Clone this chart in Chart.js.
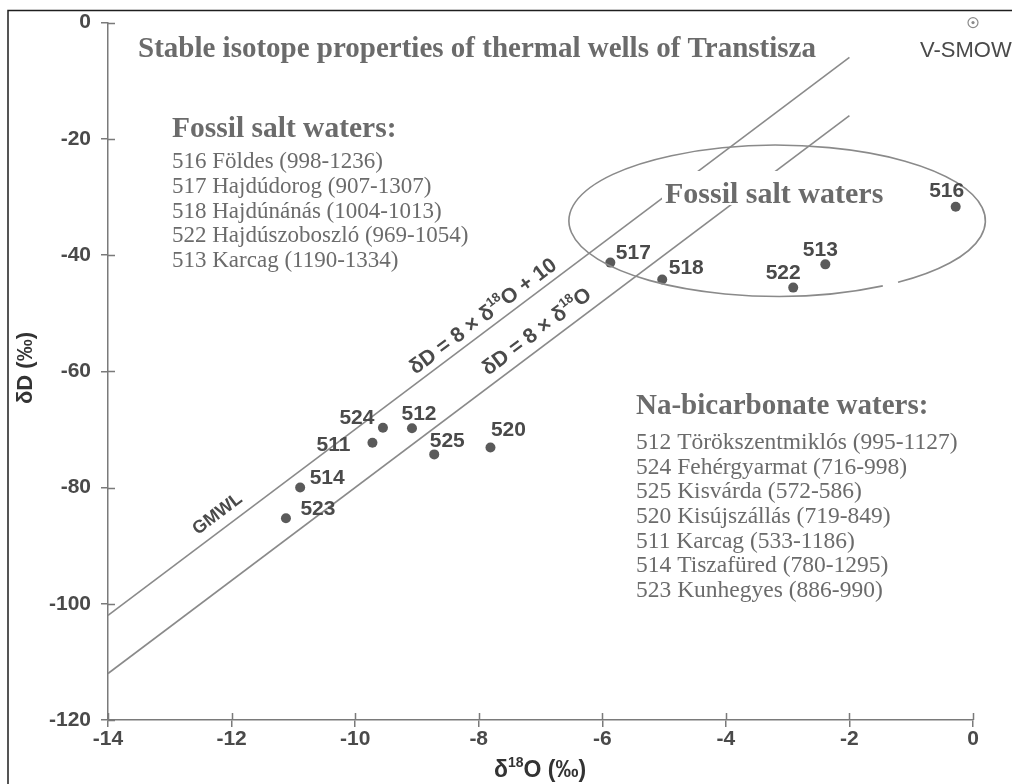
<!DOCTYPE html>
<html>
<head>
<meta charset="utf-8">
<title>Stable isotope properties of thermal wells of Transtisza</title>
<script src="https://cdn.jsdelivr.net/npm/chart.js@4.4.0/dist/chart.umd.min.js"></script>
<style>
  html, body { margin: 0; padding: 0; background: #ffffff; }
  #wrap { position: relative; width: 1012px; height: 784px; }
</style>
</head>
<body>
<div id="wrap"><canvas id="isoChart" width="1012" height="784"></canvas></div>
<script>
// Thermal wells: well number, δ18O (‰) and δD (‰)
const wellLabels = ['516', '513', '522', '518', '517', '524', '512', '511', '525', '520', '514', '523'];
const deltaO18   = [-0.28, -2.39, -2.91, -5.03, -5.87, -9.55, -9.08, -9.72, -8.72, -7.81, -10.89, -11.12];
const deltaD     = [-31.7, -41.6, -45.6, -44.2, -41.3, -69.7, -69.8, -72.3, -74.3, -73.1, -80.0, -85.3];

// Meteoric water lines (end points)
const gmwlO = [-14, -2];
const gmwlD = [-102, -6];   // δD = 8 × δ18O + 10
const mwlO  = [-14, -2];
const mwlD  = [-112, -16];  // δD = 8 × δ18O

// Reference standard
const smowO = [0];
const smowD = [0];

// Axis tick values
const xTickValues = [-14, -12, -10, -8, -6, -4, -2, 0];
const yTickValues = [-120, -100, -80, -60, -40, -20, 0];

// Well lists
const fossilWells = [
  '516 Földes (998-1236)',
  '517 Hajdúdorog (907-1307)',
  '518 Hajdúnánás (1004-1013)',
  '522 Hajdúszoboszló (969-1054)',
  '513 Karcag (1190-1334)'
];
const bicarbWells = [
  '512 Törökszentmiklós (995-1127)',
  '524 Fehérgyarmat (716-998)',
  '525 Kisvárda (572-586)',
  '520 Kisújszállás (719-849)',
  '511 Karcag (533-1186)',
  '514 Tiszafüred (780-1295)',
  '523 Kunhegyes (886-990)'
];

// ---- styling / placement ----
const SANS  = '"Liberation Sans", Arial, sans-serif';
const SERIF = '"Liberation Serif", "Times New Roman", serif';
const INK = '#4a4a4a';
const SERIF_INK = '#6b6b6b';
const LINE_INK = '#8a8a8a';

// label offsets (px) from each well marker to its number
const labelOffsets = [[-9, -16], [-5, -14], [-10, -14], [24, -11], [23, -9], [-26, -9],
                      [7, -14], [-39, 2], [13, -13], [18, -17], [27, -9], [32, -9]];

// outline of the fossil salt water group, in data units
const fossilGroup = { cx: -3.17, cy: -34.1, rx: 3.37, ry: 13.0, gapFrom: 54.5, gapTo: 59.5 };

function drawRich(ctx, parts, x, y, size, weight, family, align) {
  const main = `${weight} ${size}px ${family}`;
  const sup = `${weight} ${Math.round(size * 0.6)}px ${family}`;
  let w = 0;
  parts.forEach(p => { ctx.font = p.sup ? sup : main; w += ctx.measureText(p.t).width; });
  let cx = align === 'center' ? x - w / 2 : x;
  ctx.textAlign = 'left';
  ctx.textBaseline = 'middle';
  parts.forEach(p => {
    ctx.font = p.sup ? sup : main;
    ctx.fillText(p.t, cx, p.sup ? y - size * 0.33 : y);
    cx += ctx.measureText(p.t).width;
  });
}

function lineLabel(chart, lineO, lineD, atO, offset, parts, size) {
  const { ctx, scales: { x, y } } = chart;
  const x0 = x.getPixelForValue(lineO[0]), y0 = y.getPixelForValue(lineD[0]);
  const x1 = x.getPixelForValue(lineO[1]), y1 = y.getPixelForValue(lineD[1]);
  const ang = Math.atan2(y1 - y0, x1 - x0);
  const dAt = lineD[0] + (atO - lineO[0]) * (lineD[1] - lineD[0]) / (lineO[1] - lineO[0]);
  ctx.save();
  ctx.translate(x.getPixelForValue(atO), y.getPixelForValue(dAt));
  ctx.rotate(ang);
  ctx.fillStyle = INK;
  drawRich(ctx, parts, 0, -offset, size, 'bold', SANS, 'center');
  ctx.restore();
}

const decor = {
  id: 'decor',
  afterDatasetsDraw(chart) {
    const { ctx, scales: { x, y } } = chart;
    ctx.save();

    // fossil salt water group outline
    const cx = x.getPixelForValue(fossilGroup.cx), cy = y.getPixelForValue(fossilGroup.cy);
    const rx = Math.abs(x.getPixelForValue(fossilGroup.cx + fossilGroup.rx) - cx);
    const ry = Math.abs(y.getPixelForValue(fossilGroup.cy + fossilGroup.ry) - cy);
    ctx.beginPath();
    ctx.ellipse(cx, cy, rx, ry, 0, fossilGroup.gapTo * Math.PI / 180, (fossilGroup.gapFrom + 360) * Math.PI / 180);
    ctx.strokeStyle = LINE_INK;
    ctx.lineWidth = 1.6;
    ctx.stroke();

    // group caption on a white patch
    ctx.fillStyle = '#ffffff';
    ctx.fillRect(662, 171, 228, 34);
    ctx.fillStyle = SERIF_INK;
    ctx.font = `bold 30px ${SERIF}`;
    ctx.textAlign = 'left';
    ctx.textBaseline = 'middle';
    ctx.fillText('Fossil salt waters', 665, 195);

    // well numbers
    const meta = chart.getDatasetMeta(2);
    ctx.fillStyle = INK;
    ctx.font = `bold 21px ${SANS}`;
    ctx.textAlign = 'center';
    ctx.textBaseline = 'middle';
    meta.data.forEach((pt, i) => {
      ctx.fillText(wellLabels[i], pt.x + labelOffsets[i][0], pt.y + labelOffsets[i][1]);
    });

    // line captions
    lineLabel(chart, gmwlO, gmwlD, -12.08, 15, [{ t: 'GMWL' }], 18);
    lineLabel(chart, gmwlO, gmwlD, -7.80, 13,
      [{ t: 'δD = 8 × δ' }, { t: '18', sup: true }, { t: 'O + 10' }], 21);
    lineLabel(chart, mwlO, mwlD, -6.91, 15,
      [{ t: 'δD = 8 × δ' }, { t: '18', sup: true }, { t: 'O' }], 21);

    ctx.restore();
  },
  afterDraw(chart) {
    const { ctx, chartArea: a, scales: { x, y } } = chart;
    ctx.save();

    // inner halves of the tick marks
    ctx.strokeStyle = '#7a7a7a';
    ctx.lineWidth = 1.5;
    ctx.beginPath();
    yTickValues.forEach(v => {
      const py = Math.round(y.getPixelForValue(v)) + 0.5;
      ctx.moveTo(a.left, py); ctx.lineTo(a.left + 7, py);
    });
    xTickValues.forEach(v => {
      const px = Math.round(x.getPixelForValue(v)) + 0.5;
      ctx.moveTo(px, a.bottom); ctx.lineTo(px, a.bottom - 7);
    });
    ctx.stroke();

    // frame
    ctx.strokeStyle = '#1e1e1e';
    ctx.lineWidth = 1.5;
    ctx.beginPath();
    ctx.moveTo(8, 784); ctx.lineTo(8, 10.5); ctx.lineTo(1012, 10.5);
    ctx.stroke();

    // title
    ctx.fillStyle = SERIF_INK;
    ctx.textAlign = 'left';
    ctx.textBaseline = 'middle';
    ctx.font = `bold 29px ${SERIF}`;
    ctx.fillText('Stable isotope properties of thermal wells of Transtisza', 138, 50);

    // fossil salt waters list
    ctx.font = `bold 29.5px ${SERIF}`;
    ctx.fillText('Fossil salt waters:', 172, 129);
    ctx.font = `23px ${SERIF}`;
    fossilWells.forEach((s, i) => ctx.fillText(s, 172, 162 + i * 24.8));

    // Na-bicarbonate waters list
    ctx.font = `bold 29px ${SERIF}`;
    ctx.fillText('Na-bicarbonate waters:', 636, 407);
    ctx.font = `23.5px ${SERIF}`;
    bicarbWells.forEach((s, i) => ctx.fillText(s, 636, 443 + i * 24.6));

    // V-SMOW caption
    ctx.fillStyle = INK;
    ctx.font = `22px ${SANS}`;
    ctx.fillText('V-SMOW', 920, 51);

    // axis titles
    ctx.fillStyle = '#333333';
    drawRich(ctx, [{ t: 'δ' }, { t: '18', sup: true }, { t: 'O (‰)' }], 540, 771, 23, 'bold', SANS, 'center');
    ctx.save();
    ctx.translate(26, 368);
    ctx.rotate(-Math.PI / 2);
    drawRich(ctx, [{ t: 'δD (‰)' }], 0, 0, 22, 'bold', SANS, 'center');
    ctx.restore();

    ctx.restore();
  }
};

const tickFont = { family: SANS, size: 21, weight: 'bold' };

new Chart(document.getElementById('isoChart'), {
  type: 'scatter',
  data: {
    datasets: [
      {
        type: 'line', label: 'GMWL',
        data: gmwlO.map((v, i) => ({ x: v, y: gmwlD[i] })),
        borderColor: LINE_INK, borderWidth: 1.6, pointRadius: 0, fill: false, clip: false, order: 3
      },
      {
        type: 'line', label: 'δD = 8 × δ18O',
        data: mwlO.map((v, i) => ({ x: v, y: mwlD[i] })),
        borderColor: LINE_INK, borderWidth: 1.6, pointRadius: 0, fill: false, clip: false, order: 3
      },
      {
        label: 'Wells',
        data: deltaO18.map((v, i) => ({ x: v, y: deltaD[i] })),
        backgroundColor: '#5a5a5a', borderWidth: 0, pointRadius: 5, clip: false, order: 1
      },
      {
        label: 'V-SMOW',
        data: smowO.map((v, i) => ({ x: v, y: smowD[i] })),
        backgroundColor: '#ffffff', borderColor: '#8a8a8a', borderWidth: 1.2, pointRadius: 5, clip: false, order: 1
      },
      {
        label: 'V-SMOW centre',
        data: smowO.map((v, i) => ({ x: v, y: smowD[i] })),
        backgroundColor: '#8a8a8a', borderWidth: 0, pointRadius: 1.6, clip: false, order: 0
      }
    ]
  },
  options: {
    responsive: false,
    animation: false,
    events: [],
    layout: { padding: { left: 0, top: 19, right: 39, bottom: 0 } },
    plugins: { legend: { display: false }, tooltip: { enabled: false } },
    scales: {
      x: {
        type: 'linear', min: -14, max: 0,
        afterBuildTicks: s => { s.ticks = xTickValues.map(v => ({ value: v })); },
        afterFit: s => { s.height = 64; },
        ticks: { font: tickFont, color: INK, padding: 0, maxRotation: 0, autoSkip: false },
        grid: { drawOnChartArea: false, drawTicks: true, tickLength: 7, color: '#7a7a7a', lineWidth: 1.5 },
        border: { display: true, color: '#7a7a7a', width: 1.5 }
      },
      y: {
        type: 'linear', min: -120, max: 0,
        afterBuildTicks: s => { s.ticks = yTickValues.map(v => ({ value: v })); },
        afterFit: s => { s.width = 108; },
        ticks: { font: tickFont, color: INK, padding: 10, autoSkip: false },
        grid: { drawOnChartArea: false, drawTicks: true, tickLength: 7, color: '#7a7a7a', lineWidth: 1.5 },
        border: { display: true, color: '#7a7a7a', width: 1.5 }
      }
    }
  },
  plugins: [decor]
});
</script>
</body>
</html>
